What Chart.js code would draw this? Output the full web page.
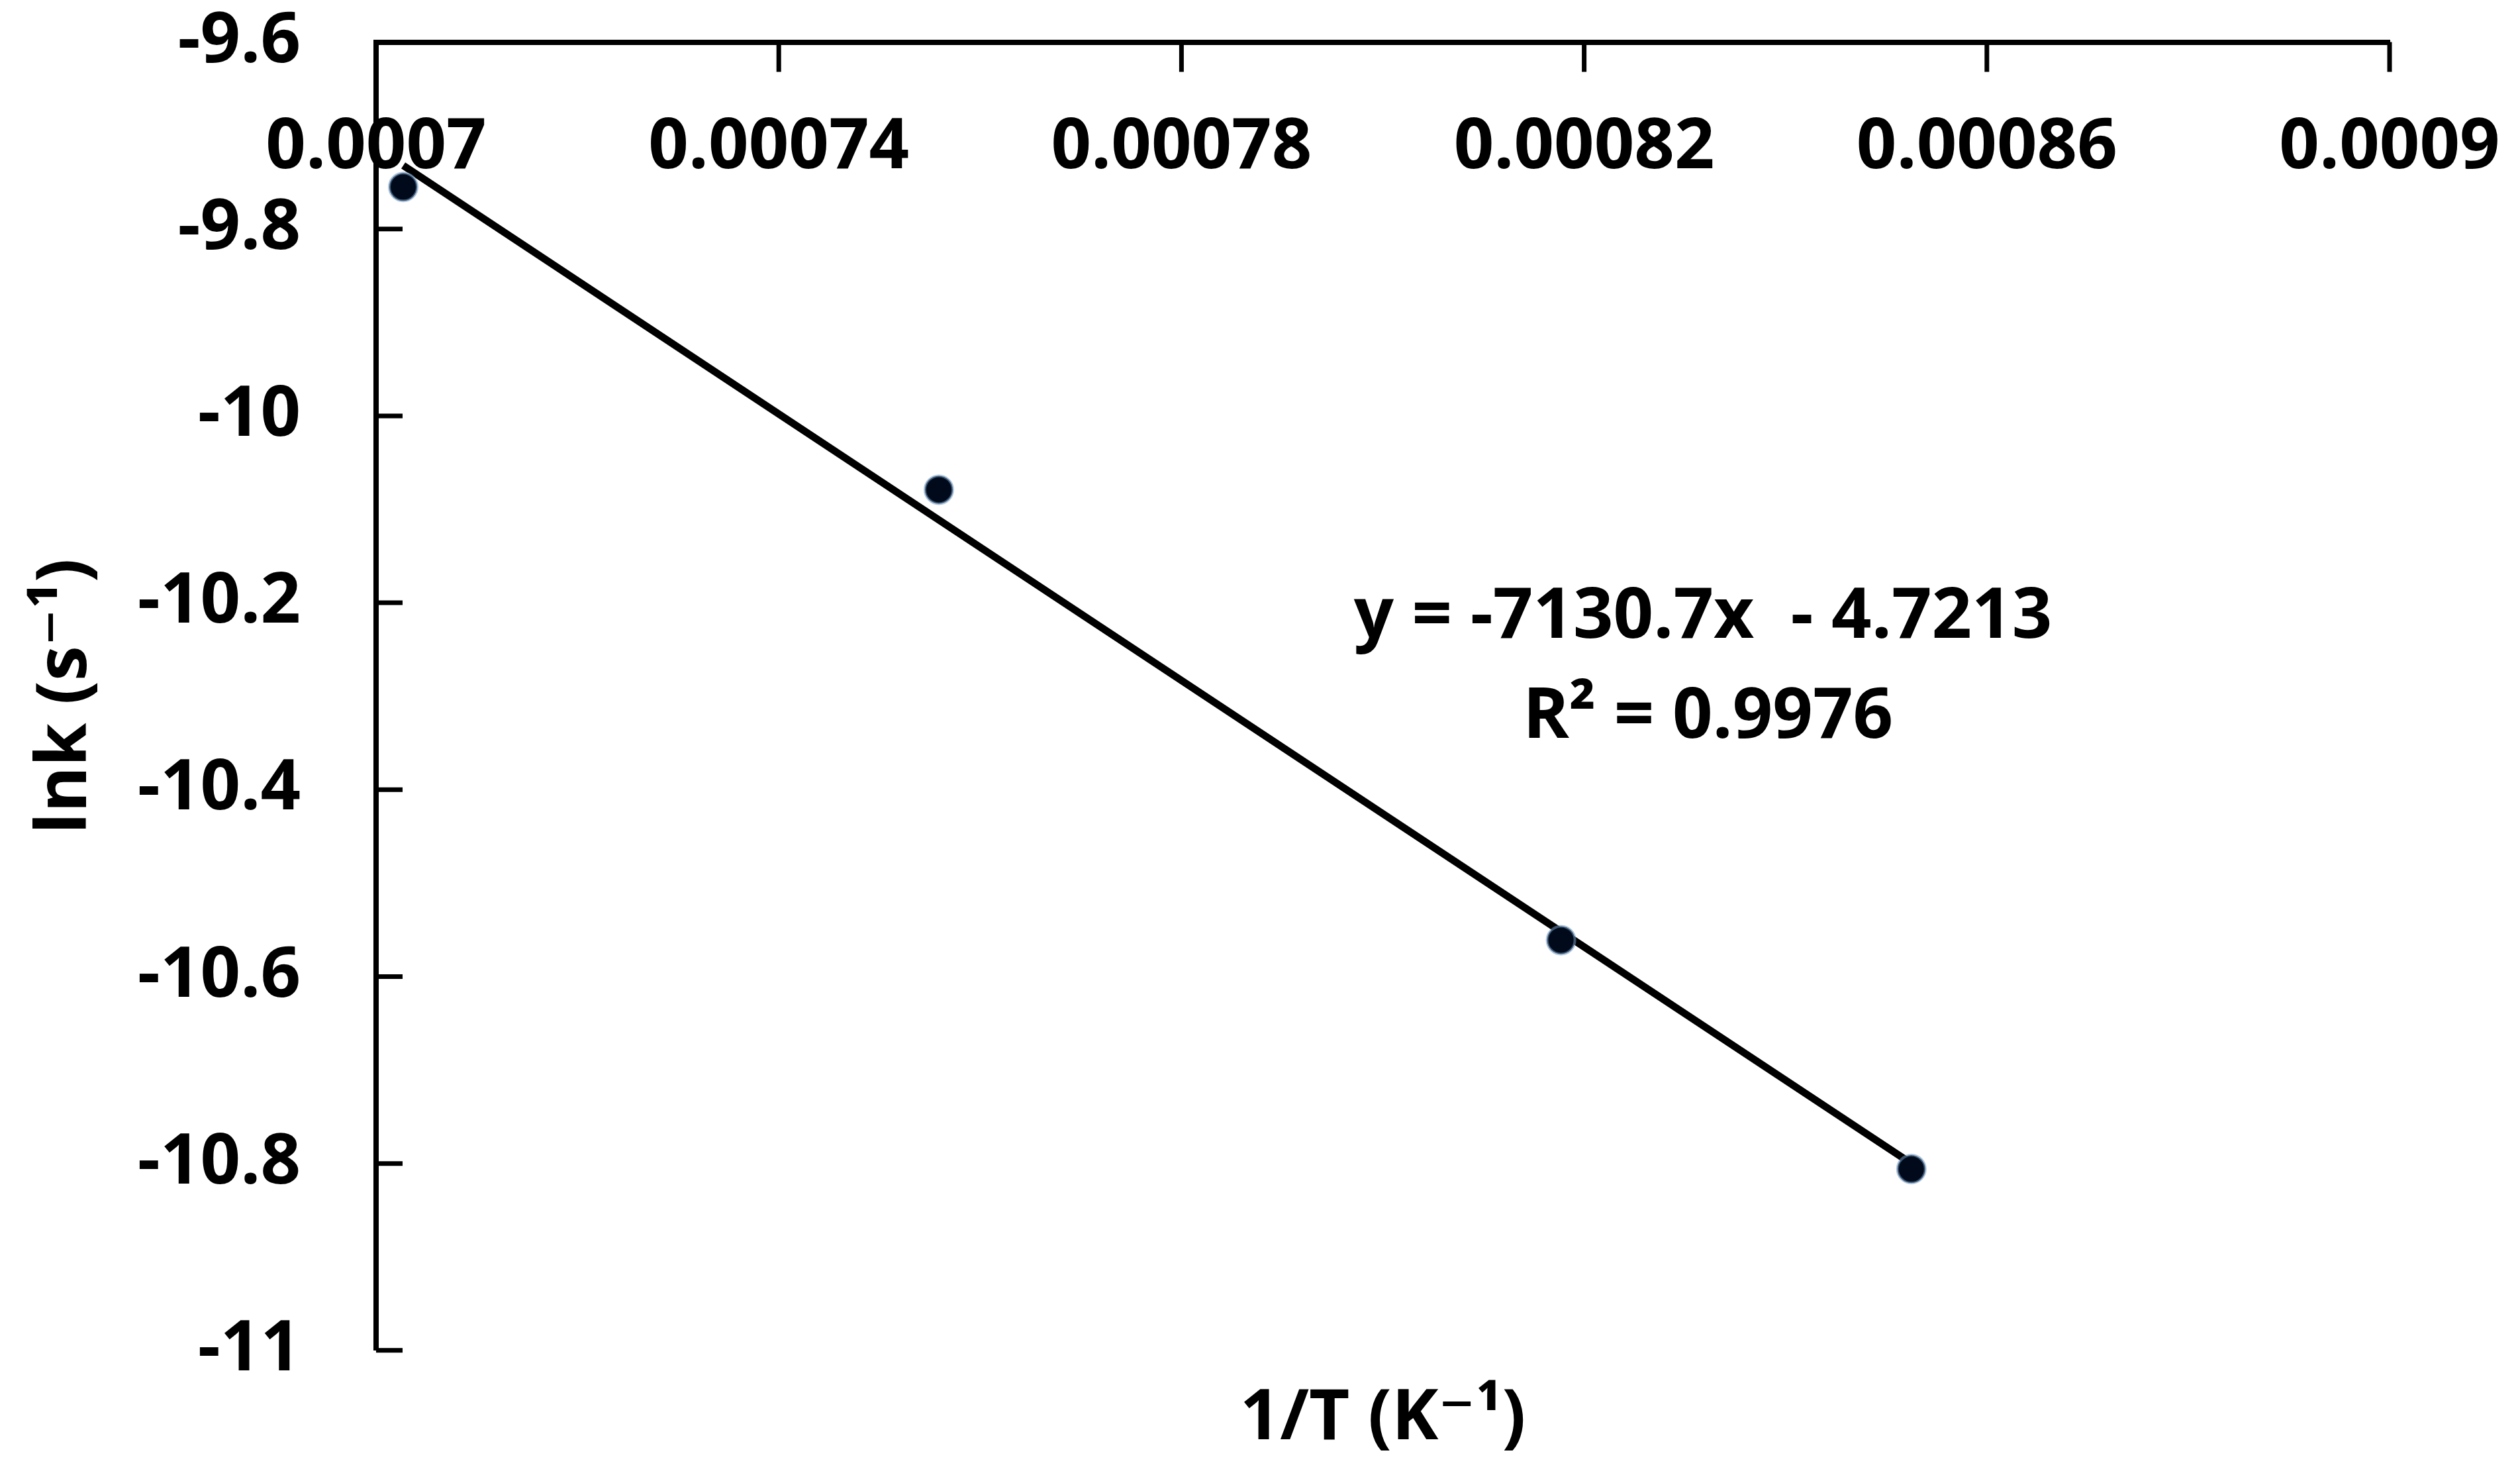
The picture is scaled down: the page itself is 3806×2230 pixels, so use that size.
<!DOCTYPE html>
<html>
<head>
<meta charset="utf-8">
<script src="https://cdn.jsdelivr.net/npm/chart.js@4.4.0/dist/chart.umd.min.js"></script>
<style>
  body { margin: 0; background: #fff; }
  #wrap { width: 3806px; height: 2230px; }
</style>
</head>
<body>
<div id="wrap"><canvas id="arrhenius" width="3806" height="2230"></canvas></div>
<script>
// measured points: 1/T (K^-1) vs ln k
const invT = [0.0007027, 0.0007559, 0.0008177, 0.0008525];
const lnK = [-9.755, -10.079, -10.561, -10.806];

// linear trendline, end points
const fitX = [0.0007027, 0.0008525];
const fitY = [-9.732, -10.800];
const fitText = ['y = -7130.7x  - 4.7213', 'R\u00b2 = 0.9976'];
const fitTextX = [0.0008318, 0.0008323];
const fitTextY = [-10.216, -10.323];

const xTicks = [0.0007, 0.00074, 0.00078, 0.00082, 0.00086, 0.0009];
const xTickLabels = ['0.0007', '0.00074', '0.00078', '0.00082', '0.00086', '0.0009'];
const yTicks = [-9.6, -9.8, -10, -10.2, -10.4, -10.6, -10.8, -11];
const yTickLabels = ['-9.6', '-9.8', '-10', '-10.2', '-10.4', '-10.6', '-10.8', '-11'];

const FONT = '"Open Sans", "DejaVu Sans", sans-serif';
const FSIZE = 106;

// x labels sit under the top axis and tick marks point inward, so draw those here
const insideTicks = {
    id: 'insideTicks',
    afterDraw(chart) {
        const {ctx, chartArea, scales} = chart;
        const x = scales.x, y = scales.y;
        ctx.save();
        ctx.strokeStyle = '#000';
        ctx.lineWidth = 7;
        ctx.beginPath();
        x.ticks.forEach(t => {
            const px = x.getPixelForValue(t.value);
            ctx.moveTo(px, chartArea.top);
            ctx.lineTo(px, chartArea.top + 45);
        });
        y.ticks.forEach(t => {
            const py = y.getPixelForValue(t.value);
            ctx.moveTo(chartArea.left, py);
            ctx.lineTo(chartArea.left + 40, py);
        });
        ctx.stroke();

        ctx.fillStyle = '#000';
        ctx.font = 'bold ' + FSIZE + 'px ' + FONT;
        ctx.textAlign = 'center';
        ctx.textBaseline = 'middle';
        x.ticks.forEach((t, i) => {
            ctx.fillText(xTickLabels[i], x.getPixelForValue(t.value), chartArea.top + 160);
        });
        fitText.forEach((s, i) => {
            ctx.fillText(s, x.getPixelForValue(fitTextX[i]), y.getPixelForValue(fitTextY[i]));
        });
        ctx.restore();
    }
};

new Chart(document.getElementById('arrhenius'), {
    type: 'scatter',
    data: {
        datasets: [
            {
                label: 'fit',
                data: fitX.map((v, i) => ({x: v, y: fitY[i]})),
                showLine: true,
                borderColor: '#000',
                borderWidth: 11,
                pointRadius: 0,
                order: 2
            },
            {
                label: 'lnk',
                data: invT.map((v, i) => ({x: v, y: lnK[i]})),
                pointRadius: 21,
                backgroundColor: '#000a1a',
                borderColor: 'rgba(110,150,190,0.55)',
                borderWidth: 4,
                order: 1
            }
        ]
    },
    options: {
        responsive: false,
        animation: false,
        devicePixelRatio: 1,
        layout: { padding: { top: 62, right: 197, bottom: 24, left: 0 } },
        plugins: {
            legend: { display: false },
            tooltip: { enabled: false }
        },
        scales: {
            x: {
                type: 'linear',
                position: 'top',
                min: 0.0007,
                max: 0.0009,
                afterBuildTicks: s => { s.ticks = xTicks.map(v => ({value: v})); },
                ticks: { display: false },
                grid: { display: false, drawTicks: false },
                border: { display: true, color: '#000', width: 8 }
            },
            xTitle: {
                type: 'linear',
                axis: 'x',
                position: 'bottom',
                ticks: { display: false },
                grid: { display: false, drawTicks: false },
                border: { display: false },
                title: {
                    display: true,
                    text: '1/T (K\u207b\u00b9)',
                    color: '#000',
                    font: { family: FONT, size: FSIZE, weight: 'bold' },
                    padding: { top: 40, bottom: 0 }
                }
            },
            y: {
                type: 'linear',
                min: -11,
                max: -9.6,
                afterBuildTicks: s => { s.ticks = yTicks.map(v => ({value: v})); },
                afterFit: s => { s.width = 568; },
                ticks: {
                    callback: (v, i) => yTickLabels[i],
                    color: '#000',
                    font: { family: FONT, size: FSIZE, weight: 'bold' },
                    padding: 0
                },
                // tickLength only spaces the labels off the axis; the grid itself is hidden
                grid: { display: false, drawTicks: true, tickLength: 114 },
                border: { display: true, color: '#000', width: 8 },
                title: {
                    display: true,
                    text: 'lnk (s\u207b\u00b9)',
                    color: '#000',
                    font: { family: FONT, size: FSIZE, weight: 'bold' },
                    padding: { top: 36, bottom: 0 }
                }
            }
        }
    },
    plugins: [insideTicks]
});
</script>
</body>
</html>
